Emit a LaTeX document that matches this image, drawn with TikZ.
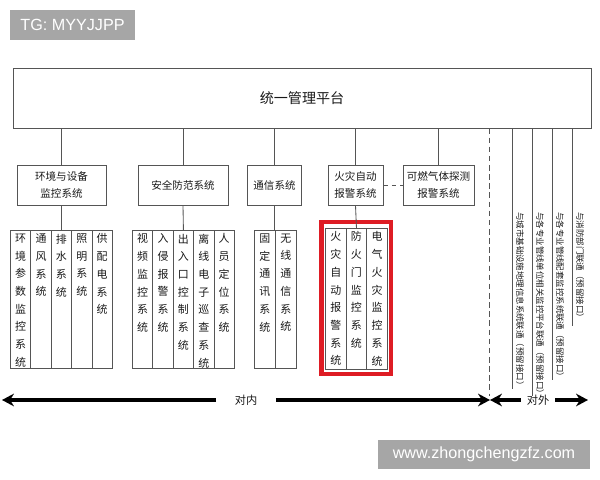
\documentclass[tikz,border=0pt]{standalone}
\usepackage{fontspec}
\setmainfont{Noto Sans CJK SC}
\newfontfamily\wmfont{Liberation Sans}
\usepackage{tikz}
\usetikzlibrary{arrows.meta,positioning}
\XeTeXlinebreaklocale "zh"
\XeTeXlinebreakskip=0pt plus 1pt
\definecolor{lngray}{RGB}{85,85,85}
\definecolor{txtgray}{RGB}{25,25,25}
\definecolor{alarmred}{RGB}{222,28,36}
\definecolor{wmgray}{RGB}{166,166,166}
\tikzstyle{conn} = [lngray, line width=0.6pt]
\tikzstyle{subsys} = [draw=lngray, line width=0.6pt, minimum height=1cm, inner sep=1pt, align=center, text=txtgray, font=\fontsize{7.5}{12}\selectfont]
\tikzstyle{col} = [draw=lngray, line width=0.6pt, minimum width=0.51cm, minimum height=3.45cm, inner sep=0pt, anchor=north west]
\tikzstyle{coltxt} = [anchor=north, text width=9pt, align=center, inner sep=2.5pt, text=txtgray, font=\fontsize{7.8}{12.6}\selectfont]
\tikzstyle{ext} = [rotate=-90, anchor=west, inner sep=0pt, text=txtgray, font=\fontsize{6}{7}\selectfont]
\tikzstyle{bigarrow} = [line width=2.8pt, -{Stealth[length=8.5pt,width=9pt]}, color=black]
\tikzstyle{wmbox} = [fill=wmgray, text=white, inner sep=0pt, font=\wmfont\fontsize{11.5}{13}\selectfont]

\begin{document}
\begin{tikzpicture}[x=0.025cm, y=-0.025cm]
\useasboundingbox (0,0) rectangle (600,480);
% platform and subsystems
\node (top) [draw=lngray, line width=0.6pt, minimum width=14.45cm, minimum height=1.5cm, text=txtgray, font=\fontsize{10}{12}\selectfont] at (302,98) {统一管理平台};
\node (env) [subsys, minimum width=2.225cm] at (61.5,185) {环境与设备\\监控系统};
\node (sec) [subsys, minimum width=2.25cm] at (183,185) {安全防范系统};
\node (com) [subsys, minimum width=1.35cm] at (274.5,185) {通信系统};
\node (fire) [subsys, minimum width=1.375cm] at (355.5,185) {火灾自动\\报警系统};
\node (gas) [subsys, minimum width=1.775cm] at (438.5,185) {可燃气体探测\\报警系统};

\foreach \n in {env,sec,com,fire,gas}
  \draw[conn] (\n.north |- top.south) -- (\n.north);
\draw[conn, dashed] (fire) -- (gas);

% column groups
\foreach \txt [count=\i] in {环境参数监控系统,通风系统,排水系统,照明系统,供配电系统}
  \node (env\i) [col, label={[coltxt]north:\txt}] at ({10+20.4*(\i-1)},230) {};
\foreach \txt [count=\i] in {视频监控系统,入侵报警系统,出入口控制系统,离线电子巡查系统,人员定位系统}
  \node (sec\i) [col, label={[coltxt]north:\txt}] at ({132+20.4*(\i-1)},230) {};
\foreach \txt [count=\i] in {固定通讯系统,无线通信系统}
  \node (com\i) [col, minimum width=0.525cm, label={[coltxt]north:\txt}] at ({254+21*(\i-1)},230) {};
\foreach \txt [count=\i] in {火灾自动报警系统,防火门监控系统,电气火灾监控系统}
  \node (fire\i) [col, minimum width=0.5175cm, minimum height=3.525cm, label={[coltxt]north:\txt}] at ({325+20.7*(\i-1)},228) {};
\draw[alarmred, line width=2.9pt] (321.5,222) rectangle (391,374);

\draw[conn] (env.south) -- (env3.north);
\draw[conn] (sec.south) -- (sec3.north);
\draw[conn] (com.south) -- (com.south |- com1.north);
\draw[conn] (fire.south) -- (fire2.north);

% external links
\foreach \x/\e/\txt [count=\i] in {512/389/与城市基础设施地理信息系统联通（预留接口）,532/396/与各专业管线单位相关监控平台联通（预留接口）,552/380/与各专业管线配套监控系统联通（预留接口）,572/326/与消防部门联通（预留接口）}{
  \coordinate (lk\i) at (\x,\e);
  \draw[conn] (lk\i |- top.south) -- (lk\i);
  \node (ext\i) [ext] at (\x+8,212) {\txt};
}
\coordinate (split) at (489,396);
\draw[conn, dash pattern=on 4pt off 2.5pt] (split |- top.south) -- (split);

% inside / outside
\node (inner) [inner xsep=13pt, text=txtgray, font=\fontsize{8}{10}\selectfont] at (246,400) {对内};
\node (outer) [inner xsep=4pt, text=txtgray, font=\fontsize{8}{10}\selectfont] at (538,400) {对外};
\coordinate (lend) at (2,400);
\coordinate (mid) at (490,400);
\coordinate (rend) at (588,400);
\draw[bigarrow] (inner) -- (lend);
\draw[bigarrow] (inner) -- (mid);
\draw[bigarrow] (outer) -- (mid);
\draw[bigarrow] (outer) -- (rend);

% watermarks
\node (tg) [wmbox, minimum width=3.125cm, minimum height=0.75cm] at (72.5,25) {TG: MYYJJPP};
\node (site) [wmbox, minimum width=5.3cm, minimum height=0.725cm] at (484,454.5) {www.zhongchengzfz.com};
\end{tikzpicture}
\end{document}
